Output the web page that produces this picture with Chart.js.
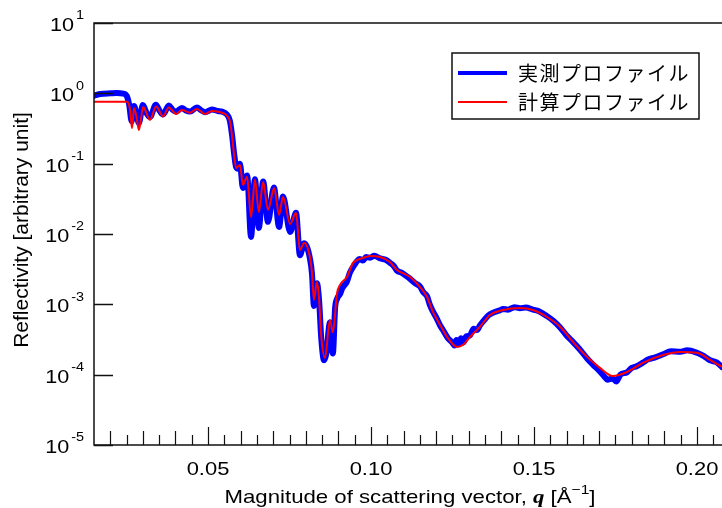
<!DOCTYPE html>
<html>
<head>
<meta charset="utf-8">
<script src="https://cdn.jsdelivr.net/npm/chart.js@4"></script>
<style>
  html, body { margin: 0; padding: 0; background: #fff; }
  #wrap { width: 722px; height: 508px; }
</style>
</head>
<body>
<div id="wrap"><canvas id="refl"></canvas></div>
<script>
// measured profile (blue)
var qMeas = [0.0150, 0.0165, 0.0180, 0.0200, 0.0220, 0.0240, 0.0250, 0.0258, 0.0266, 0.0273,
  0.0281, 0.0288, 0.0300, 0.0312, 0.0322, 0.0340, 0.0352, 0.0362, 0.0380, 0.0392,
  0.0402, 0.0420, 0.0432, 0.0445, 0.0466, 0.0480, 0.0491, 0.0512, 0.0530, 0.0543,
  0.0558, 0.0567, 0.0574, 0.0580, 0.0586, 0.0592, 0.0598, 0.0607, 0.0620, 0.0632,
  0.0644, 0.0656, 0.0669, 0.0684, 0.0702, 0.0718, 0.0730, 0.0752, 0.0770, 0.0782,
  0.0795, 0.0813, 0.0819, 0.0825, 0.0834, 0.0841, 0.0847, 0.0856, 0.0863, 0.0874,
  0.0883, 0.0890, 0.0896, 0.0905, 0.0912, 0.0926, 0.0935, 0.0945, 0.0955, 0.0965,
  0.0975, 0.0985, 0.0997, 0.1010, 0.1028, 0.1045, 0.1058, 0.1070, 0.1080, 0.1095,
  0.1110, 0.1120, 0.1135, 0.1150, 0.1160, 0.1172, 0.1180, 0.1190, 0.1200, 0.1212,
  0.1225, 0.1236, 0.1248, 0.1256, 0.1262, 0.1268, 0.1276, 0.1284, 0.1292, 0.1303,
  0.1315, 0.1325, 0.1334, 0.1345, 0.1355, 0.1365, 0.1380, 0.1395, 0.1405, 0.1420,
  0.1440, 0.1457, 0.1475, 0.1497, 0.1515, 0.1540, 0.1560, 0.1580, 0.1600, 0.1620,
  0.1640, 0.1663, 0.1680, 0.1703, 0.1715, 0.1725, 0.1742, 0.1752, 0.1765, 0.1785,
  0.1800, 0.1815, 0.1834, 0.1850, 0.1870, 0.1896, 0.1920, 0.1948, 0.1970, 0.2000,
  0.2020, 0.2040, 0.2060, 0.2077];
var rMeas = [0.92, 0.97, 0.99, 1.00, 1.01, 0.99, 0.93, 0.70, 0.40, 0.66,
  0.50, 0.38, 0.68, 0.52, 0.46, 0.69, 0.56, 0.50, 0.67, 0.58,
  0.55, 0.62, 0.57, 0.55, 0.63, 0.57, 0.54, 0.59, 0.56, 0.55,
  0.50, 0.41, 0.25, 0.14, 0.09, 0.085, 0.10, 0.045, 0.068, 0.0091,
  0.060, 0.0122, 0.056, 0.0149, 0.046, 0.0126, 0.034, 0.0107, 0.020, 0.0050,
  0.0074, 0.0044, 0.0027, 0.00095, 0.0020, 0.0011, 0.00035, 0.00016, 0.00020, 0.00055,
  0.00020, 0.0009, 0.0012, 0.0014, 0.0017, 0.0021, 0.0028, 0.0034, 0.0040, 0.0044,
  0.0042, 0.0047, 0.0046, 0.0049, 0.0045, 0.0043, 0.0039, 0.0035, 0.0030, 0.0028,
  0.0025, 0.0023, 0.0020, 0.0018, 0.0015, 0.0013, 0.0010, 0.00079, 0.00065, 0.00050,
  0.00040, 0.00033, 0.00029, 0.00026, 0.00031, 0.00027, 0.00033, 0.00029, 0.00035, 0.00036,
  0.00045, 0.00043, 0.00050, 0.00058, 0.00066, 0.00072, 0.00078, 0.00082, 0.00086, 0.00084,
  0.00091, 0.00088, 0.00090, 0.00084, 0.00080, 0.00068, 0.00058, 0.00047, 0.00036, 0.00029,
  0.00023, 0.00017, 0.00014, 0.00011, 0.000095, 0.000085, 0.000088, 0.000080, 0.000100, 0.000108,
  0.000125, 0.000132, 0.000148, 0.000165, 0.000175, 0.000195, 0.000215, 0.000212, 0.000222, 0.000205,
  0.000185, 0.000160, 0.000150, 0.000128];

// calculated profile (red)
var qCalc = [0.0150, 0.0252, 0.0261, 0.0267, 0.0273, 0.0281, 0.0288, 0.0301, 0.0322, 0.0341,
  0.0362, 0.0380, 0.0402, 0.0420, 0.0445, 0.0466, 0.0491, 0.0512, 0.0543, 0.0558,
  0.0568, 0.0574, 0.0580, 0.0586, 0.0598, 0.0607, 0.0620, 0.0632, 0.0644, 0.0656,
  0.0669, 0.0684, 0.0703, 0.0718, 0.0730, 0.0752, 0.0770, 0.0782, 0.0795, 0.0813,
  0.0819, 0.0825, 0.0834, 0.0841, 0.0847, 0.0859, 0.0874, 0.0883, 0.0896, 0.0905,
  0.0926, 0.0945, 0.0976, 0.0997, 0.1028, 0.1058, 0.1080, 0.1120, 0.1150, 0.1172,
  0.1190, 0.1212, 0.1236, 0.1264, 0.1282, 0.1304, 0.1334, 0.1365, 0.1405, 0.1457,
  0.1497, 0.1540, 0.1580, 0.1620, 0.1663, 0.1703, 0.1742, 0.1785, 0.1834, 0.1896,
  0.1948, 0.2000, 0.2040, 0.2077];
var rCalc = [0.76, 0.76, 0.58, 0.32, 0.62, 0.45, 0.30, 0.64, 0.42, 0.65,
  0.47, 0.63, 0.51, 0.58, 0.53, 0.60, 0.51, 0.56, 0.53, 0.48,
  0.39, 0.24, 0.133, 0.087, 0.096, 0.050, 0.065, 0.0175, 0.059, 0.0206,
  0.055, 0.022, 0.045, 0.0187, 0.0337, 0.0139, 0.020, 0.0059, 0.0075, 0.0046,
  0.0028, 0.00116, 0.00208, 0.00116, 0.00037, 0.000173, 0.00060, 0.00040, 0.00145, 0.00189,
  0.00245, 0.00388, 0.00457, 0.00488, 0.0047, 0.0040, 0.00308, 0.00245, 0.00177, 0.00127,
  0.00078, 0.00051, 0.00033, 0.000248, 0.000264, 0.000344, 0.000478, 0.000706, 0.000832, 0.00089,
  0.00083, 0.00066, 0.00048, 0.00029, 0.000179, 0.000124, 0.0000957, 0.000109, 0.000147, 0.00019,
  0.00021, 0.000205, 0.000162, 0.000129];

var seriesNames = ["実測プロファイル", "計算プロファイル"];
var seriesColors = ["#0000ff", "#ff0000"];
var yTickExps = [1, 0, -1, -2, -3, -4, -5];
var xMajorTicks = [0.05, 0.10, 0.15, 0.20];
var xTickLabels = ["0.05", "0.10", "0.15", "0.20"];

var SANS = "'Liberation Sans', Arial, sans-serif";

function toPoints(qs, rs) {
    var pts = [];
    for (var i = 0; i < qs.length; i++) pts.push({ x: qs[i], y: rs[i] });
    return pts;
}

// text drawn a bit wider, like the original figure
function wideText(c, text, x, y, sx) {
    c.save();
    c.translate(x, y);
    c.scale(sx, 1);
    c.fillText(text, 0, 0);
    c.restore();
}

var framePlugin = {
    id: "frame",
    beforeDraw: function(chart) {
        var c = chart.ctx;
        c.save();
        c.fillStyle = "#fff";
        c.fillRect(0, 0, chart.width, chart.height);
        c.restore();
    },
    afterDraw: function(chart) {
        var c = chart.ctx, a = chart.chartArea;
        var xs = chart.scales.x, ys = chart.scales.y;
        c.save();
        c.strokeStyle = "#111";
        c.lineWidth = 1.5;
        c.beginPath();
        c.moveTo(a.right, a.top); c.lineTo(a.left, a.top);
        c.lineTo(a.left, a.bottom); c.lineTo(a.right, a.bottom);
        c.stroke();

        // y ticks (inward)
        c.beginPath();
        yTickExps.forEach(function(e) {
            var py = Math.round(ys.getPixelForValue(Math.pow(10, e))) + 0.5;
            c.moveTo(a.left, py); c.lineTo(a.left + 19, py);
        });
        c.stroke();

        // x ticks every 0.005
        c.lineWidth = 1.2;
        c.beginPath();
        for (var k = 4; k <= 41; k++) {
            var px = Math.round(xs.getPixelForValue(k * 0.005)) + 0.5;
            var len = (k % 10 === 0) ? 18 : (k % 2 === 0 ? 14 : 10);
            c.moveTo(px, a.bottom); c.lineTo(px, a.bottom - len);
        }
        c.stroke();

        c.fillStyle = "#000";
        // x tick labels
        c.font = "18px " + SANS;
        c.textAlign = "center";
        c.textBaseline = "middle";
        xMajorTicks.forEach(function(v, i) {
            wideText(c, xTickLabels[i], xs.getPixelForValue(v), 470, 1.22);
        });

        // y tick labels 10^n
        yTickExps.forEach(function(e) {
            var py = ys.getPixelForValue(Math.pow(10, e));
            var sup = (e < 0 ? "-" : "") + Math.abs(e);
            c.font = "12px " + SANS;
            var ws = c.measureText(sup).width * 1.2;
            c.textAlign = "right";
            wideText(c, sup, 84, py - 7, 1.2);
            c.font = "18px " + SANS;
            wideText(c, "10", 84 - ws - 2, py + 3, 1.2);
        });

        // y title
        c.save();
        c.translate(22, 230);
        c.rotate(-Math.PI / 2);
        c.textAlign = "center";
        c.font = "21px " + SANS;
        c.fillText("Reflectivity [arbitrary unit]", 0, 0);
        c.restore();

        // x title with bold italic q and superscript
        var sx = 1.2;
        var parts = [
            { t: "Magnitude of scattering vector, ", f: "18.5px " + SANS, dy: 0 },
            { t: "q", f: "bold italic 19px 'Liberation Serif', 'Times New Roman', serif", dy: 0 },
            { t: " [Å", f: "18.5px " + SANS, dy: 0 },
            { t: "\u2212" + "1", f: "13px " + SANS, dy: -9 },
            { t: "]", f: "18.5px " + SANS, dy: 0 }
        ];
        var total = 0;
        parts.forEach(function(p) { c.font = p.f; p.w = c.measureText(p.t).width * sx; total += p.w; });
        var x0 = 410 - total / 2;
        c.textAlign = "left";
        c.textBaseline = "alphabetic";
        parts.forEach(function(p) {
            c.font = p.f;
            wideText(c, p.t, x0, 503 + p.dy, sx);
            x0 += p.w;
        });

        // legend box
        c.lineWidth = 1.5;
        c.strokeStyle = "#111";
        c.fillStyle = "#fff";
        c.fillRect(452, 53, 247, 66);
        c.strokeRect(452, 53, 247, 66);
        var rowsY = [73, 102];
        var widths = [4, 2];
        chart.data.datasets.forEach(function(ds, i) {
            c.strokeStyle = ds.borderColor;
            c.lineWidth = widths[i];
            c.beginPath();
            c.moveTo(458, rowsY[i]); c.lineTo(507, rowsY[i]);
            c.stroke();
            c.fillStyle = "#000";
            c.font = "20px 'Noto Sans CJK JP', sans-serif";
            c.letterSpacing = "1.5px";
            c.textAlign = "left";
            c.textBaseline = "middle";
            c.fillText(ds.label, 518, rowsY[i]);
            c.letterSpacing = "0px";
        });
        c.restore();
    }
};

document.addEventListener("DOMContentLoaded", function() {
    var ctx = document.getElementById("refl").getContext("2d");
    new Chart(ctx, {
        type: "line",
        data: {
            datasets: [
                {
                    label: seriesNames[0],
                    data: toPoints(qMeas, rMeas),
                    borderColor: seriesColors[0],
                    borderWidth: 6,
                    pointRadius: 0,
                    cubicInterpolationMode: "monotone",
                    borderJoinStyle: "round",
                    borderCapStyle: "round",
                    order: 2
                },
                {
                    label: seriesNames[1],
                    data: toPoints(qCalc, rCalc),
                    borderColor: seriesColors[1],
                    borderWidth: 2,
                    pointRadius: 0,
                    cubicInterpolationMode: "monotone",
                    borderJoinStyle: "round",
                    order: 1
                }
            ]
        },
        options: {
            responsive: true,
            maintainAspectRatio: false,
            animation: false,
            layout: { padding: { left: 94, top: 23, right: 0, bottom: 63 } },
            plugins: { legend: { display: false }, tooltip: { enabled: false } },
            scales: {
                x: { type: "linear", min: 0.01503, max: 0.20767, display: false },
                y: { type: "logarithmic", min: 1e-5, max: 10, display: false }
            }
        },
        plugins: [framePlugin]
    });
});
</script>
</body>
</html>
